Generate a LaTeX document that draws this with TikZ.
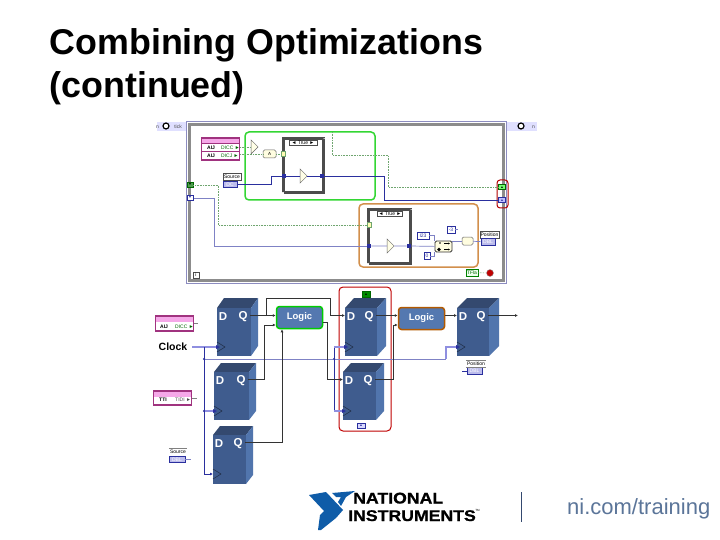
\documentclass[tikz,border=0pt]{standalone}
\usepackage{fontspec}
\setmainfont{Liberation Sans}
\newfontfamily\logofont[FakeStretch=1.14,FakeBold=1]{Liberation Sans Bold}
\usepackage{xcolor}
\usetikzlibrary{arrows.meta,positioning,calc,shapes.geometric}
\definecolor{niblue}{HTML}{0F5CA8}
\definecolor{wireblue}{HTML}{2A2F9E}
\definecolor{wirelite}{HTML}{8F8FE0}
\definecolor{boolgreen}{HTML}{6FA56F}
\definecolor{pinkclus}{HTML}{A0337F}
\definecolor{pinkfill}{HTML}{F5A8E8}
\definecolor{ffront}{HTML}{3F5C8E}
\definecolor{ftop}{HTML}{34496F}
\definecolor{fside}{HTML}{5175AD}
\definecolor{logicfill}{HTML}{5478B0}
\definecolor{webtext}{HTML}{5B7599}
\tikzset{
  wire/.style={wireblue,line width=0.7pt},
  wirefade/.style={wireblue!60,line width=0.7pt},
  boolwire/.style={boolgreen,line width=0.6pt,densely dotted},
  blackwire/.style={black!80,line width=0.6pt},
  clockwire/.style={wirelite,line width=1.5pt},
  tip/.style={-{Latex[length=3pt,width=3pt]}},
  tiny/.style={font=\fontsize{5}{5}\selectfont,inner sep=0pt},
  cst/.style={draw=wireblue,fill=white,line width=0.8pt,font=\fontsize{5}{5}\selectfont,text=wireblue,inner sep=0pt,minimum height=7pt},
  ctl/.style={draw=wireblue,fill=wirelite!60,line width=0.8pt,font=\fontsize{5}{5}\selectfont,text=white,inner sep=0pt,minimum height=6.5pt},
  lab/.style={draw=black!70,fill=white,line width=0.5pt,font=\fontsize{5}{5}\selectfont,inner sep=0pt,minimum height=7pt},
  tunnel/.style={fill=wireblue,minimum size=4.5pt,inner sep=0pt},
  gatebox/.style={draw=black!60,fill=yellow!12,line width=0.5pt,rounded corners=1.5pt,font=\fontsize{4.5}{4.5}\selectfont,inner sep=0pt},
  trig/.style={isosceles triangle,isosceles triangle apex angle=90,draw=black!60,fill=yellow!10,line width=0.5pt,inner sep=0pt,minimum height=7pt,minimum width=8pt},
  casebox/.style={draw=black!70,line width=3pt,dash pattern=on 0.6pt off 0.4pt,fill=white,inner sep=0pt},
  casesel/.style={draw=black!70,fill=white,line width=0.5pt,font=\fontsize{5}{5}\selectfont,inner sep=0pt},
  logicbox/.style={fill=logicfill,rounded corners=3pt,text=white,font=\bfseries\fontsize{9.5}{9.5}\selectfont,inner sep=0pt,minimum width=46pt,minimum height=22pt},
  fflab/.style={text=white,font=\bfseries\fontsize{11.5}{11.5}\selectfont,inner sep=0pt},
  dotn/.style={circle,fill=wireblue,inner sep=0pt,minimum size=2.5pt},
  clockface/.style={circle,draw=black,line width=1.2pt,fill=white,minimum size=6pt,inner sep=0pt},
  clusbox/.style={draw=pinkclus,fill=white,line width=1.2pt,minimum width=38pt,inner sep=0pt},
  titletext/.style={anchor=base west,inner sep=0pt,font=\bfseries\fontsize{35.8}{35.8}\selectfont},
  termglyph/.style={font=\fontsize{3.5}{3.5}\selectfont,inner sep=0pt},
}
\begin{document}
\begin{tikzpicture}[x=1pt,y=-1pt]
  \useasboundingbox (0,0) rectangle (720,540);
  \fill[white] (0,0) rectangle (720,540);

  \node[titletext] (title1) at (49.5,55) {Combining Optimizations};
  \node[titletext] (title2) at (49.5,98) {(continued)};

  \fill[blue!12] (157,122) rectangle (186,131);
  \fill[blue!12] (506,122) rectangle (537,131);
  \node[tiny,text=black!70] (tabl) at (157.5,127) {n};
  \node[tiny,text=black!70] (tabr) at (533.5,127) {n};
  \node[tiny,text=black!70] (tickl) at (178,127) {tick};
  \node[clockface] (clockl) at (166,126) {};
  \node[clockface] (clockr) at (521,126) {};
  \draw[blue!45!black!45,line width=1pt] (186.5,121.5) rectangle (506,283);
  \draw[black!45,line width=3pt] (189.5,125) rectangle (503,280);
  \node[draw=black!70,fill=white,line width=0.8pt,minimum size=6pt,inner sep=0pt,font=\fontsize{5}{5}\selectfont] (iter) at (196,275) {i};

  \node[draw=green!80!black!80,line width=1.5pt,rounded corners=4pt,minimum width=130pt,minimum height=68pt,inner sep=0pt] (greenbox) at (310,166) {};
  \node[draw=orange!75!black!70,line width=1.5pt,rounded corners=4pt,minimum width=119pt,minimum height=63pt,inner sep=0pt] (orangebox) at (418.5,235.5) {};

  \node[casebox,minimum width=40pt,minimum height=54pt] (case1) at (303.5,165.5) {};
  \node[casesel,minimum width=28pt,minimum height=5.5pt] (sel1) at (303,143) {◄ True ►};
  \node[casebox,minimum width=42pt,minimum height=54pt] (case2) at (389.5,236.5) {};
  \node[casesel,minimum width=25pt,minimum height=5.5pt] (sel2) at (390,214) {◄ True ►};

  \node[fill=green!45!black!70,draw=green!40!black,line width=0.6pt,minimum width=6pt,minimum height=5pt,inner sep=0pt,termglyph] (bootin) at (190,185) {▼};
  \node[draw=wireblue,fill=white,line width=1pt,minimum width=6pt,minimum height=5pt,inner sep=0pt,termglyph,text=wireblue] (blockin) at (190,198) {▼};
  \node[draw=green!40!black,fill=green!55,line width=0.6pt,minimum width=7pt,minimum height=5.5pt,inner sep=0pt,termglyph] (bootout) at (502,187) {▲};
  \node[draw=wireblue,fill=blue!25,line width=0.8pt,minimum width=7pt,minimum height=5.5pt,inner sep=0pt,termglyph,text=wireblue] (blockout) at (502,200) {▲};
  \node[draw=red!70!black,line width=1pt,rounded corners=3pt,minimum width=11pt,minimum height=28pt,inner sep=0pt] (redtop) at (502.5,194) {};

  \node[clusbox,minimum height=22pt] (clus1) at (220.5,149) {};
  \fill[pinkfill] (202,139) rectangle (239,143);
  \draw[pinkclus,line width=0.5pt] (201,143.5) -- (240,143.5) (201,151.5) -- (240,151.5);
  \node[tiny,anchor=west] (ai1) at (207,147.5) {\bfseries AIJ};
  \node[tiny,anchor=west] (ai2) at (207,155.5) {\bfseries AIJ};
  \node[tiny,anchor=west,text=green!40!black] (di1) at (221,147.5) {DICC ►};
  \node[tiny,anchor=west,text=green!40!black] (di2) at (221,155.5) {DICJ ►};

  \node[lab,minimum width=18pt] (srclab) at (232,176.5) {Source};
  \node[ctl,minimum width=14pt] (srcval) at (230,184.5) {DC};
  \node[trig] (cmp) at (254,147) {};
  \node[gatebox,minimum width=13pt,minimum height=8pt] (andg) at (269.5,154) {A};
  \node[fill=yellow!30,draw=boolgreen,line width=0.5pt,minimum size=4.5pt,inner sep=0pt] (selt1) at (283,154) {};
  \node[tunnel] (tun1) at (284,176) {};
  \node[tunnel] (tun2) at (322,176) {};
  \node[trig] (gate1) at (303,176) {};
  \node[fill=yellow!30,draw=boolgreen,line width=0.5pt,minimum size=4.5pt,inner sep=0pt] (selt2) at (369,225) {};
  \node[tunnel] (tun3) at (369,246) {};
  \node[tunnel] (tun4) at (409,246) {};
  \node[trig] (gate2) at (390,246) {};

  \node[gatebox,minimum width=17pt,minimum height=11pt,line width=0.8pt,draw=black!80] (selnode) at (443.5,246.5) {};
  \fill[black] (439,249.5) circle (1.8pt) (440,243) circle (0.8pt);
  \draw[black,line width=0.5pt,-{Latex[length=2pt,width=2pt]}] (444,243.5) -- (450,243.5);
  \draw[black,line width=0.5pt,-{Latex[length=2pt,width=2pt]}] (444,249.5) -- (450,249.5);
  \node[cst,minimum width=12pt] (c123) at (423,235.5) {I23};
  \node[cst,minimum width=6pt] (c0) at (427,256) {0};
  \node[cst,minimum width=8pt] (cm3) at (451,229.5) {-3};
  \node[gatebox,minimum width=11pt,minimum height=8pt] (gate3) at (467.5,241) {};
  \node[lab,minimum width=19pt] (poslab) at (489.5,234.5) {Position};
  \node[ctl,minimum width=14pt] (posval) at (488,242) {DBL};
  \node[draw=green!50!black,fill=green!8,line width=0.8pt,minimum width=12pt,minimum height=7pt,inner sep=0pt,font=\fontsize{5}{5}\selectfont,text=green!40!black] (tfconst) at (472,272.5) {TFla};
  \node[circle,draw=black!40,fill=red!75!black,minimum size=7pt,inner sep=0pt] (stopn) at (490,273) {};

  \coordinate (bootv) at (218,225);
  \coordinate (blockv) at (214,246);
  \coordinate (boolup) at (332,132);
  \coordinate (boolt) at (388,155);
  \coordinate (wiret) at (384,176);
  \coordinate (srcv) at (271,176);
  \draw[boolwire] (bootin) -| (bootv) -- (selt2);
  \draw[wirefade] (blockin) -| (blockv) -- (tun3);
  \draw[wirefade] (tun3) -- (gate2) -- (tun4) -- (selnode);
  \draw[boolwire] (clus1.east |- cmp) -- (cmp);
  \draw[boolwire] (clus1.east |- andg) -- (andg);
  \draw[boolwire] (andg) -- (selt1);
  \draw[boolwire] (boolup) |- (boolt) |- (bootout);
  \draw[wire] (srcval) -| (srcv) -- (tun1);
  \draw[wire] (tun1) -- (gate1) -- (tun2);
  \draw[wire] (tun2) -- (wiret) |- (blockout);
  \draw[wirefade] (c123) -| (selnode.north west);
  \draw[wirefade] (c0) -| (selnode.south west);
  \draw[wirefade] (cm3.east) -- +(3,0);
  \draw[wirefade] (selnode.east |- gate3) -- (gate3);
  \draw[wirefade] (gate3) -- (posval);
  \draw[boolwire] (tfconst) -- (stopn);

  \foreach \n/\xa/\ya/\xb/\yb/\xc/\yc in {1/217/308/251/356/258/298,2/214/372/249/420/256/363,3/213/435/246/484/253/426,4/345/308/377/356/386/298,5/343/372/376/420/384/363,6/457/308/489/356/499/298} {
    \fill[ftop] (\xa,\ya) -- ({\xa+\xc-\xb},\yc) -- (\xc,\yc) -- (\xb,\ya) -- cycle;
    \fill[fside] (\xb,\ya) -- (\xc,\yc) -- (\xc,{\yb-\ya+\yc}) -- (\xb,\yb) -- cycle;
    \fill[ffront] (\xa,\ya) rectangle (\xb,\yb);
    \node[fflab] (d\n) at ({\xa+6},{\ya+9}) {D};
    \node[fflab] (q\n) at ({\xb-8},{\ya+9}) {Q};
    \coordinate (in\n) at (\xa,{\ya+7.5});
    \coordinate (out\n) at ({\xb-1},{\ya+7.5});
    \coordinate (ck\n) at (\xa,{\ya+39});
    \draw[ftop!60!black,line width=0.5pt] (\xa,{\ya+34}) -- ({\xa+8},{\ya+39}) -- (\xa,{\ya+44});
  }

  \node[logicbox,draw=green!80!black,line width=1.5pt] (logic1) at (299.5,317.5) {Logic};
  \node[logicbox,draw=orange!70!black,line width=1.5pt] (logic2) at (421.5,318.5) {Logic};
  \node[draw=red!75!black,line width=1pt,rounded corners=4pt,minimum width=52pt,minimum height=144pt,inner sep=0pt] (redbox) at (365,359) {};
  \node[draw=green!40!black,fill=green!55!black,line width=0.5pt,minimum width=8pt,minimum height=6pt,inner sep=0pt,termglyph] (greent) at (366,294) {▲};
  \node[draw=wireblue,fill=blue!15,line width=0.8pt,minimum width=8pt,minimum height=5pt,inner sep=0pt,termglyph,text=wireblue] (bluet) at (361,425.5) {▲};

  \node[clusbox,minimum height=15pt] (clus2) at (174.5,323.5) {};
  \fill[pinkfill] (156,317) rectangle (193,322);
  \node[tiny,anchor=west] (ai3) at (160,326.5) {\bfseries AIJ};
  \node[tiny,anchor=west,text=green!40!black] (di3) at (175,326.5) {DICC ►};
  \node[clusbox,minimum height=14pt] (clus3) at (172.5,398) {};
  \fill[pinkfill] (154,392) rectangle (191,397);
  \node[tiny,anchor=west] (ai4) at (159,400) {\bfseries TTI};
  \node[tiny,anchor=west,text=black!70] (di4) at (175,400) {TIDI ►};
  \node[lab,minimum width=18pt,draw=none] (srclab2) at (178,451.5) {Source};
  \node[ctl,minimum width=16pt] (srcval2) at (177,459.5) {DBL};
  \draw[black!50,line width=0.4pt] (srclab2.north west) -- (srclab2.north east) (clus2.east) -- +(4,0) (clus3.east) -- +(5,0);
  \draw[wirefade] (srcval2.east) -- +(6,0);
  \node[lab,minimum width=20pt,draw=none] (poslab2) at (476,363.5) {Position};
  \node[ctl,minimum width=15pt] (posval2) at (474.5,371) {DBL};
  \coordinate (posstub) at (462,371);
  \draw[wire] (posstub) -- (posval2);
  \draw[black!50,line width=0.4pt] (poslab2.north west) -- (poslab2.north east) (poslab2.south west) -- (poslab2.south east);

  \node[font=\bfseries\fontsize{10.5}{10.5}\selectfont,inner sep=0pt] (clk) at (173,347) {Clock};
  \coordinate (clkout) at (192,347);
  \coordinate (busv) at (204,347);
  \node[dotn] (bus1) at (204,359) {};
  \node[dotn] (bus2) at (204,411) {};
  \node[dotn] (bus3) at (334,359) {};
  \coordinate (busr) at (446,359);
  \draw[clockwire] (clkout) -- (ck1);
  \draw[clockwire] (bus2) -- (ck2);
  \draw[wire,tip] (busv) |- (ck3);
  \draw[wirefade] (bus1) -- (bus3) -- (busr);
  \draw[clockwire] (busr) |- (ck6);
  \draw[wire] (bus3 |- ck4) -- (bus3 |- ck5);
  \draw[clockwire] (bus3 |- ck4) -- (ck4);
  \draw[clockwire] (bus3 |- ck5) -- (ck5);
  \foreach \n in {1,2,4,5,6} {
    \fill[wireblue] (ck\n) ++(-1,-2) -- ++(4,2) -- ++(-4,2) -- cycle;
  }

  \coordinate (branch) at (266,298);
  \coordinate (branchr) at (330,298);
  \coordinate (q2up) at (264,325);
  \coordinate (q3up) at (282,443);
  \coordinate (l1down) at (327,322);
  \coordinate (q5up) at (393,325);
  \coordinate (endq) at (518,315.5);
  \draw[blackwire,tip] (out1) -- (out1 -| logic1.west);
  \draw[blackwire,tip] (branch |- out1) -- (branch) -- (branchr) -- (branchr |- in4) -- (in4);
  \draw[blackwire,tip] (out2) -| (q2up) -- (q2up -| logic1.west);
  \draw[blackwire,tip] (out3) -| (logic1.south -| q3up);
  \draw[blackwire] (logic1.east |- l1down) -- (l1down);
  \draw[blackwire,tip] (l1down) |- (in5);
  \draw[blackwire,tip] (out4) -- (out4 -| logic2.west);
  \draw[blackwire,tip] (out5) -| (q5up) -- (q5up -| logic2.west);
  \draw[blackwire,tip] (logic2.east |- in6) -- (in6);
  \draw[blackwire,tip] (out6) -- (endq);

  \fill[niblue] (309,495) -- (326,492) -- (343,510) -- (336,518) -- (321,530) -- (318,530) -- (320,515) -- (324,511) -- cycle;
  \fill[niblue] (332,493) -- (355,491) -- (346,497) -- (341,506) -- (338,502) -- (341,497) -- (336,497) -- cycle;
  \node[anchor=base west,inner sep=0pt,font=\logofont\fontsize{15.5}{15.5}\selectfont] (logo1) at (353,503.5) {NATIONAL};
  \node[anchor=base west,inner sep=0pt,font=\logofont\fontsize{15.5}{15.5}\selectfont] (logo2) at (348,521) {INSTRUMENTS};
  \node[inner sep=0pt,font=\fontsize{3}{3}\selectfont] (logotm) at (477.5,510) {TM};
  \draw[ftop,line width=1pt] (521,492) -- (521,522);
  \node[anchor=base west,inner sep=0pt,font=\fontsize{22}{22}\selectfont,text=webtext] (web) at (567,514) {ni.com/training};
\end{tikzpicture}
\end{document}
